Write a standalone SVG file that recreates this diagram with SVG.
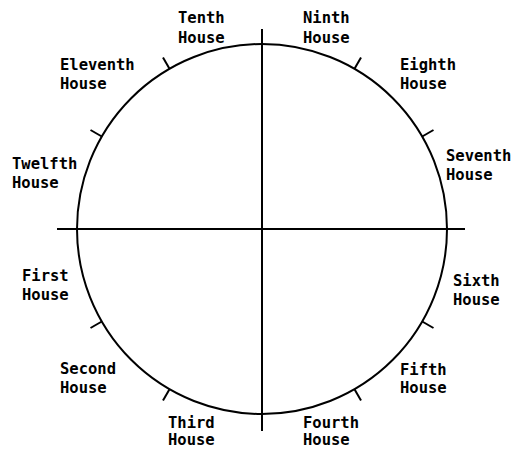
<svg xmlns="http://www.w3.org/2000/svg" width="516" height="449" viewBox="0 0 516 449">
<style>
.ln{stroke:#000;stroke-width:2;fill:none;stroke-linecap:butt}
.lb{font-family:"DejaVu Sans Mono","Liberation Mono",monospace;font-weight:bold;font-size:15.5px;fill:#000}
</style>
<rect width="516" height="449" fill="#fff"/>
<g id="wheel">
<circle class="ln" cx="262" cy="229" r="185"/>
</g>
<g id="connectors">
<line class="ln" x1="57" y1="229" x2="465" y2="229"/>
<line class="ln" x1="262" y1="29" x2="262" y2="431" stroke-width="2.4"/>
<g id="cusps">
<line class="ln" x1="354.5" y1="68.8" x2="361" y2="57.5"/>
<line class="ln" x1="422.2" y1="136.5" x2="433.5" y2="130"/>
<line class="ln" x1="422.2" y1="321.5" x2="433.5" y2="328"/>
<line class="ln" x1="354.5" y1="389.2" x2="361" y2="400.5"/>
<line class="ln" x1="169.5" y1="389.2" x2="163" y2="400.5"/>
<line class="ln" x1="101.8" y1="321.5" x2="90.5" y2="328"/>
<line class="ln" x1="101.8" y1="136.5" x2="90.5" y2="130"/>
<line class="ln" x1="169.5" y1="68.8" x2="163" y2="57.5"/>
</g>
</g>
<g id="house10"><text class="lb" x="178" y="23">Tenth</text><text class="lb" x="178" y="43">House</text></g>
<g id="house9"><text class="lb" x="303" y="23">Ninth</text><text class="lb" x="303" y="43">House</text></g>
<g id="house11"><text class="lb" x="60" y="70">Eleventh</text><text class="lb" x="60" y="89">House</text></g>
<g id="house8"><text class="lb" x="400" y="70">Eighth</text><text class="lb" x="400" y="89">House</text></g>
<g id="house12"><text class="lb" x="12" y="169">Twelfth</text><text class="lb" x="12" y="188">House</text></g>
<g id="house7"><text class="lb" x="446" y="161">Seventh</text><text class="lb" x="446" y="180">House</text></g>
<g id="house1"><text class="lb" x="22" y="281">First</text><text class="lb" x="22" y="300">House</text></g>
<g id="house6"><text class="lb" x="453" y="286">Sixth</text><text class="lb" x="453" y="305">House</text></g>
<g id="house2"><text class="lb" x="60" y="374">Second</text><text class="lb" x="60" y="393">House</text></g>
<g id="house5"><text class="lb" x="400" y="375">Fifth</text><text class="lb" x="400" y="393">House</text></g>
<g id="house3"><text class="lb" x="168" y="428">Third</text><text class="lb" x="168" y="445">House</text></g>
<g id="house4"><text class="lb" x="303" y="428">Fourth</text><text class="lb" x="303" y="445">House</text></g>
</svg>
